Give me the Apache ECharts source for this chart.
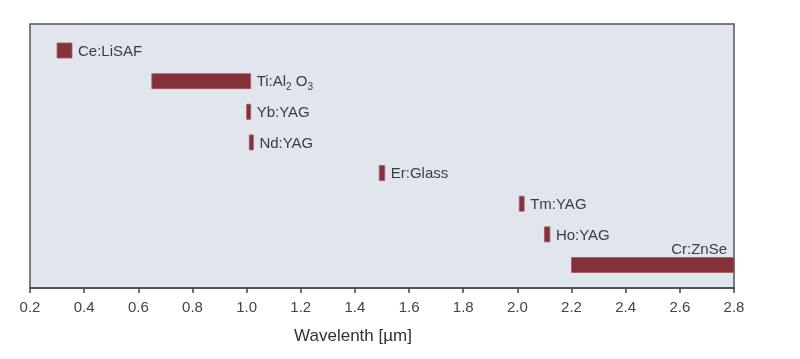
<!DOCTYPE html>
<html>
<head>
<meta charset="utf-8">
<script src="https://cdn.jsdelivr.net/npm/echarts@6/dist/echarts.min.js"></script>
<style>html,body{margin:0;padding:0;background:#fff}#c{width:800px;height:359px}</style>
</head>
<body>
<div id="c"></div>
<script>
var lasers = ['Ce:LiSAF', 'Ti:Al2O3', 'Yb:YAG', 'Nd:YAG', 'Er:Glass', 'Tm:YAG', 'Ho:YAG', 'Cr:ZnSe'];
var labels = ['Ce:LiSAF', 'Ti:Al{sub|2} O{sub|3}', 'Yb:YAG', 'Nd:YAG', 'Er:Glass', 'Tm:YAG', 'Ho:YAG', 'Cr:ZnSe'];
var startWl = [0.30, 0.65, 1.00, 1.01, 1.49, 2.007, 2.10, 2.20];
var endWl = [0.355, 1.015, 1.015, 1.025, 1.51, 2.025, 2.12, 2.80];
var rows = [0, 1, 2, 3, 4, 5, 6, 7];
var xTicks = [0.2, 0.4, 0.6, 0.8, 1.0, 1.2, 1.4, 1.6, 1.8, 2.0, 2.2, 2.4, 2.6, 2.8];

var data = lasers.map(function (n, i) { return [startWl[i], endWl[i], rows[i], i]; });
var font = 'Liberation Sans, Arial, Helvetica, sans-serif';
var chart = echarts.init(document.getElementById('c'), null, {renderer: 'canvas'});
chart.setOption({
  animation: false,
  grid: {left: 30, right: 66, top: 24, bottom: 71, show: true, backgroundColor: '#e1e5ee', borderColor: '#555', borderWidth: 1.5},
  xAxis: {
    type: 'value', min: xTicks[0], max: xTicks[xTicks.length - 1], interval: 0.2,
    name: 'Wavelenth [\u00b5m]', nameLocation: 'middle', nameGap: 40,
    nameTextStyle: {fontFamily: font, fontSize: 17, color: '#333', padding: [0, 58, 0, 0]},
    axisLine: {show: true, onZero: false, lineStyle: {color: '#444', width: 1.5}},
    axisTick: {show: true, length: 5, lineStyle: {color: '#444', width: 1.5}},
    axisLabel: {fontFamily: font, fontSize: 15, color: '#444', margin: 12, formatter: function (v) { return v.toFixed(1); }},
    splitLine: {show: false}
  },
  yAxis: {
    type: 'value', inverse: true, min: -0.865, max: 7.75,
    axisLine: {show: false}, axisTick: {show: false}, axisLabel: {show: false}, splitLine: {show: false}
  },
  series: [{
    type: 'custom',
    data: data,
    encode: {x: [0, 1], y: 2},
    renderItem: function (params, api) {
      var s = api.coord([api.value(0), api.value(2)]);
      var e = api.coord([api.value(1), api.value(2)]);
      var h = api.size([0, 0.49])[1];
      var idx = api.value(3);
      var rect = {type: 'rect', shape: {x: s[0], y: s[1] - h / 2, width: e[0] - s[0], height: h},
        style: {fill: '#84313a', stroke: '#a55a5e', lineWidth: 0.8}};
      var last = idx === lasers.length - 1;
      var txt = {type: 'text', style: {
        text: labels[idx], x: last ? e[0] - 7 : e[0] + 6, y: last ? s[1] - h / 2 - 8 : s[1] + 1,
        align: last ? 'right' : 'left', verticalAlign: 'middle',
        fontFamily: font, fontSize: 15, fill: '#3d3d3d',
        rich: {sub: {fontFamily: font, fontSize: 10, fill: '#3d3d3d', padding: [10, 0, 0, 0]}}
      }};
      return {type: 'group', children: [rect, txt]};
    }
  }]
});
</script>
</body>
</html>
